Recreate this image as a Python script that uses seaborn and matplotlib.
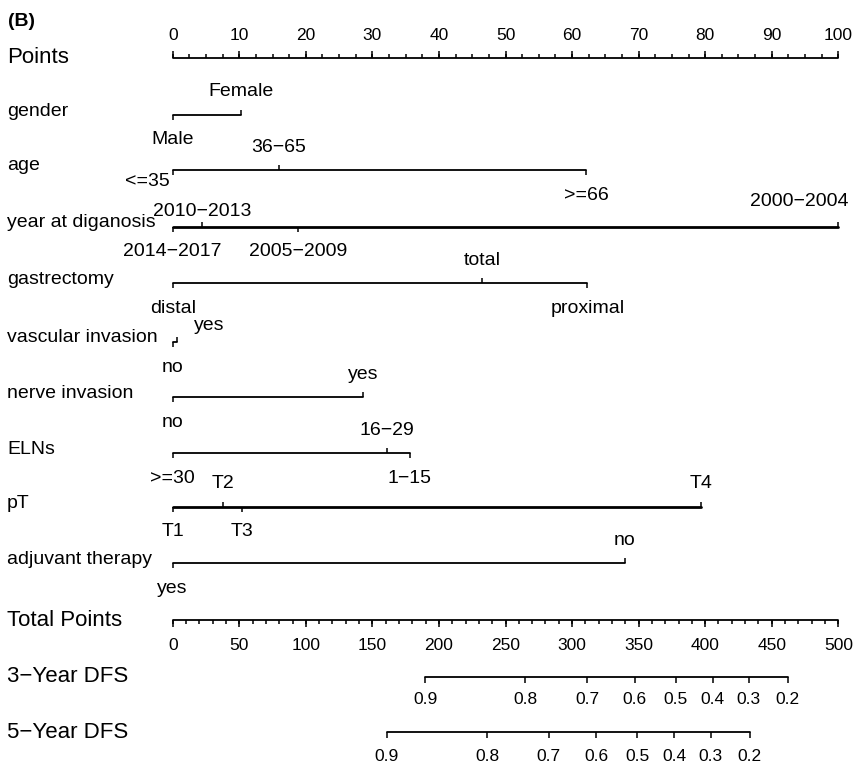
import numpy as np
import pandas as pd
import seaborn as sns
import matplotlib
matplotlib.use("Agg")
import matplotlib.pyplot as plt

# ---- nomogram data (points per level) ----
points_major = np.arange(0, 101, 10)
points_minor = np.arange(0, 100.1, 2.5)

variables = ["gender", "age", "year at diganosis", "gastrectomy",
             "vascular invasion", "nerve invasion", "ELNs", "pT",
             "adjuvant therapy"]

gender_levels = ["Male", "Female"]
gender_pts = [0, 10.3]
age_levels = ["<=35", "36\u221265", ">=66"]
age_pts = [0, 15.9, 62.1]
year_levels = ["2014\u22122017", "2010\u22122013", "2005\u22122009", "2000\u22122004"]
year_pts = [0, 4.4, 18.9, 100]
gastrectomy_levels = ["distal", "total", "proximal"]
gastrectomy_pts = [0, 46.5, 62.3]
vascular_levels = ["no", "yes"]
vascular_pts = [0, 0.6]
nerve_levels = ["no", "yes"]
nerve_pts = [0, 28.6]
eln_levels = [">=30", "16\u221229", "1\u221215"]
eln_pts = [0, 32.2, 35.6]
pt_levels = ["T1", "T2", "T3", "T4"]
pt_pts = [0, 7.5, 10.4, 79.4]
adjuvant_levels = ["yes", "no"]
adjuvant_pts = [0, 67.9]

total_major = np.arange(0, 501, 50)
total_minor = np.arange(0, 501, 10)

dfs_probs = ["0.9", "0.8", "0.7", "0.6", "0.5", "0.4", "0.3", "0.2"]
dfs3_total = [189.7, 264.9, 311.3, 347.1, 377.9, 405.7, 432.8, 462.1]
dfs5_total = [160.9, 236.1, 282.4, 318.3, 349.1, 376.9, 404.2, 433.3]

level_table = [
    (gender_levels, gender_pts), (age_levels, age_pts), (year_levels, year_pts),
    (gastrectomy_levels, gastrectomy_pts), (vascular_levels, vascular_pts),
    (nerve_levels, nerve_pts), (eln_levels, eln_pts), (pt_levels, pt_pts),
    (adjuvant_levels, adjuvant_pts),
]

# ---- layout ----
W, H = 857, 769
PX = 6.656           # pixels per point on the Points scale
X0 = 172.7           # pixel position of 0 points
TOTAL_SCALE = 100 / 500  # total points -> points-scale units

y_points = 57.5
y_rows = [115, 170, 226.7, 283.3, 342, 397.3, 453.3, 507, 563.3]
y_total = 620
y_dfs3 = 676.7
y_dfs5 = 732.3

row_lw = {"year at diganosis": 2.0, "pT": 2.0}
# per-label nudges (dx pixels, dy pixels, ha) where the default placement collides
nudges = {
    "<=35": (-3, 12, "right"),
    "2010\u22122013": (0, -15, "center"),
    "2000\u22122004": (10, -25, "right"),
}
vascular_yes_nudge = (33, -16, "center")

sns.set_theme(style="white")
plt.rcParams["font.family"] = ["Liberation Sans", "DejaVu Sans"]
plt.rcParams["text.color"] = "black"

fig = plt.figure(figsize=(W / 100, H / 100), dpi=100)
ax = fig.add_axes([0, 0, 1, 1])
ax.set_xlim(-X0 / PX, (W - X0) / PX)
ax.set_ylim(H, 0)
ax.axis("off")

def px(dx):
    return dx / PX

def hline(x0, x1, y, lw=1.3):
    sns.lineplot(x=[x0, x1], y=[y, y], ax=ax, color="black", lw=lw,
                 estimator=None, sort=False, legend=False)

def scale_axis(y, major, minor, factor, up, label, label_y, fs_lab=12.5):
    hline(min(minor) * factor, max(minor) * factor, y)
    s = -1 if up else 1
    ax.vlines(np.asarray(minor) * factor, y, y + s * 3.5, color="black", lw=1.1)
    ax.vlines(np.asarray(major) * factor, y, y + s * 6.5, color="black", lw=1.1)
    for v in major:
        ax.text(v * factor, label_y, f"{v:g}", ha="center", va="center",
                fontsize=fs_lab)
    ax.text(-X0 / PX + px(7), y, label, ha="left", va="center", fontsize=16)

# panel tag
ax.text(-X0 / PX + px(8), 21, "(B)", ha="left", va="center", fontsize=14,
        fontweight="bold")

# Points scale
scale_axis(y_points, points_major, points_minor, 1.0, True, "Points", 36)

# predictor rows
for name, (levels, pts), y in zip(variables, level_table, y_rows):
    lw = row_lw.get(name, 1.3)
    hline(min(pts), max(pts), y, lw=lw)
    order = np.argsort(pts)
    for rank, i in enumerate(order):
        up = rank % 2 == 1
        ax.vlines(pts[i], y, y + (-5 if up else 5), color="black", lw=1.1)
        lab = levels[i]
        dx, dy, ha = 0, (-23 if up else 25), "center"
        if lab in nudges:
            dx, dy, ha = nudges[lab]
        if name == "vascular invasion" and lab == "yes":
            dx, dy, ha = vascular_yes_nudge
        ax.text(pts[i] + px(dx), y + dy, lab, ha=ha, va="center", fontsize=14)
    ax.text(-X0 / PX + px(7), y - 4, name, ha="left", va="center", fontsize=14)

# Total Points scale
scale_axis(y_total, total_major, total_minor, TOTAL_SCALE, False,
           "Total Points", 645)

# survival probability scales
for y, tot, label, ly in [(y_dfs3, dfs3_total, "3\u2212Year DFS", 700),
                          (y_dfs5, dfs5_total, "5\u2212Year DFS", 756.5)]:
    xs = np.asarray(tot) * TOTAL_SCALE
    hline(xs.min(), xs.max(), y)
    ax.vlines(xs, y, y + 6, color="black", lw=1.1)
    for x, p in zip(xs, dfs_probs):
        ax.text(x, ly, p, ha="center", va="center", fontsize=12.5)
    ax.text(-X0 / PX + px(7), y, label, ha="left", va="center", fontsize=16)

fig.savefig("out.png", dpi=100)
